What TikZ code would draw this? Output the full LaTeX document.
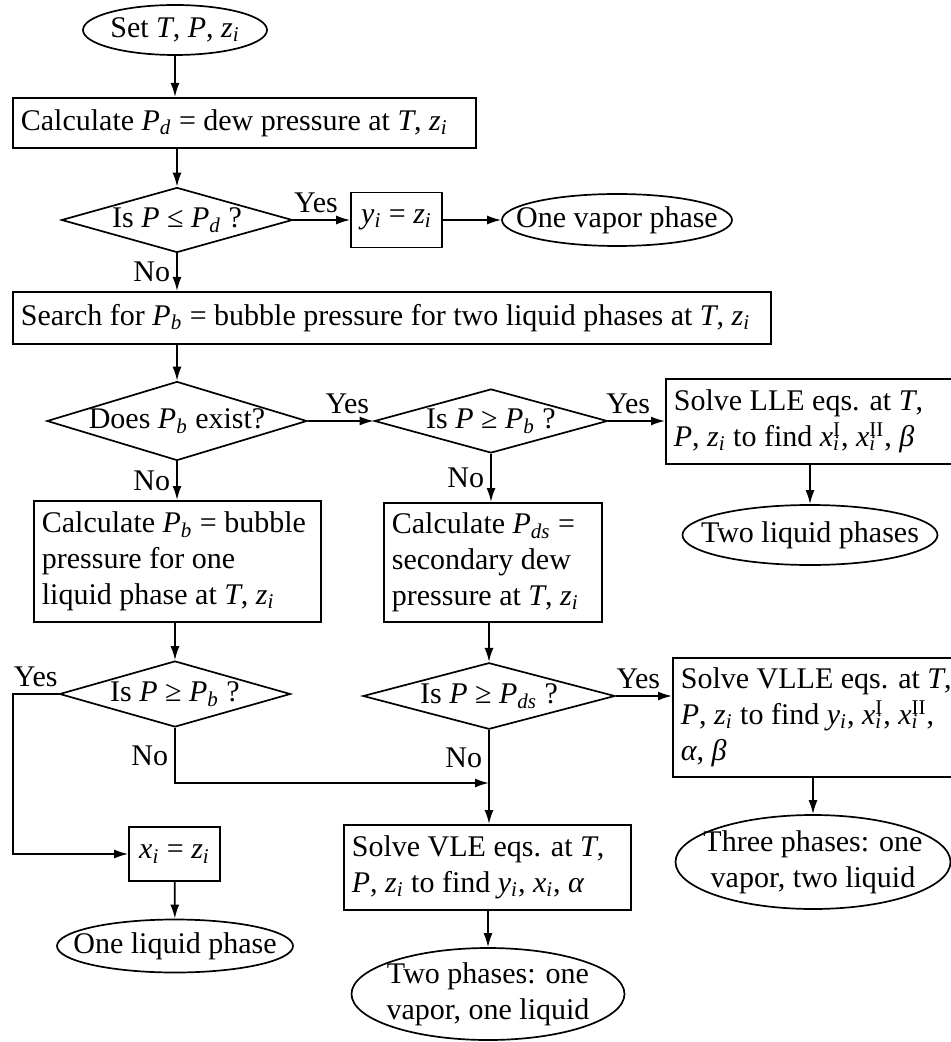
\documentclass[tikz,border=0pt]{standalone}
\usepackage{fontspec}
\setmainfont{Liberation Serif}
\usetikzlibrary{shapes.geometric,arrows.meta}

\newcommand{\vv}[1]{\textit{#1}}
\newcommand{\sbs}[1]{\textsubscript{\textit{#1}}}
\newcommand{\xsup}[1]{\textit{x}\makebox[0pt][l]{\sbs{i}}\textsuperscript{#1}}

\begin{document}
\begin{tikzpicture}[x=0.5pt, y=-0.5pt, line width=0.85pt,
    font=\fontsize{15}{18}\selectfont,
    term/.style={ellipse, draw, align=center, inner xsep=-20pt, inner ysep=-8pt},
    box/.style={rectangle, draw, align=flush left, anchor=north west, inner xsep=4pt, inner ysep=0pt},
    eqbox/.style={rectangle, draw, inner sep=0pt},
    decide/.style={diamond, draw, aspect=3.3, inner sep=0pt},
    arr/.style={-{Latex[length=7pt,width=4.5pt]}},
    lbl/.style={inner sep=3pt}]

\useasboundingbox (0,0) rectangle (951,1042);

\node[term, minimum width=92pt, minimum height=25pt] (set) at (175,30) {Set \vv{T}, \vv{P}, \vv{z}\sbs{i}};

\node[box, text width=223.5pt, minimum height=25pt] (calcd) at (12,97)
    {\mbox{Calculate \vv{P}\sbs{d} = dew pressure at \vv{T}, \vv{z}\sbs{i}}};

\node[decide, minimum width=115.5pt, minimum height=32.5pt] (isd) at (177,220) {Is \vv{P} ≤ \vv{P}\sbs{d} ?};

\node[eqbox, minimum width=45.5pt, minimum height=27.5pt] (yz) at (396.5,220) {\vv{y}\sbs{i} = \vv{z}\sbs{i}};

\node[term, minimum width=115pt, minimum height=26pt] (vap) at (617,220) {One vapor phase};

\node[box, text width=371pt, minimum height=26pt] (search) at (12,291)
    {\mbox{Search for \vv{P}\sbs{b} = bubble pressure for two liquid phases at \vv{T}, \vv{z}\sbs{i}}};

\node[decide, minimum width=130pt, minimum height=39.5pt] (exist) at (177,421) {Does \vv{P}\sbs{b} exist?};

\node[decide, minimum width=116.5pt, minimum height=32pt] (isb) at (491,421) {Is \vv{P} ≥ \vv{P}\sbs{b} ?};

\node[box, text width=150pt, minimum height=42.5pt] (lle) at (665,378)
    {\mbox{Solve LLE eqs. at \vv{T},}\\\mbox{\vv{P}, \vv{z}\sbs{i} to find \xsup{I}, \xsup{II}, \vv{β}}};

\node[term, minimum width=127.5pt, minimum height=30pt] (twoliq) at (810,535) {Two liquid phases};

\node[box, text width=135.5pt, minimum height=60.5pt] (calcb) at (33,500)
    {\mbox{Calculate \vv{P}\sbs{b} = bubble}\\pressure for one\\\mbox{liquid phase at \vv{T}, \vv{z}\sbs{i}}};

\node[box, text width=101pt, minimum height=59.5pt] (calcds) at (383,502)
    {\mbox{Calculate \vv{P}\sbs{ds} =}\\secondary dew\\\mbox{pressure at \vv{T}, \vv{z}\sbs{i}}};

\node[decide, minimum width=115.5pt, minimum height=33pt] (isb2) at (175,694) {Is \vv{P} ≥ \vv{P}\sbs{b} ?};

\node[decide, minimum width=126pt, minimum height=33pt] (isds) at (489,696) {Is \vv{P} ≥ \vv{P}\sbs{ds} ?};

\node[box, text width=150pt, minimum height=59.5pt] (vlle) at (672,657)
    {\mbox{Solve VLLE eqs. at \vv{T},}\\\mbox{\vv{P}, \vv{z}\sbs{i} to find \vv{y}\sbs{i}, \xsup{I}, \xsup{II},}\\\vv{α}, \vv{β}};

\node[term, minimum width=137.5pt, minimum height=47pt] (three) at (813,862) {Three phases: one\\vapor, two liquid};

\node[eqbox, minimum width=45.5pt, minimum height=27pt] (xz) at (174.5,854) {\vv{x}\sbs{i} = \vv{z}\sbs{i}};

\node[term, minimum width=118pt, minimum height=26.5pt] (liq1) at (175,946) {One liquid phase};

\node[box, text width=135.5pt, minimum height=42.5pt] (vle) at (343,824)
    {\mbox{Solve VLE eqs. at \vv{T},}\\\mbox{\vv{P}, \vv{z}\sbs{i} to find \vv{y}\sbs{i}, \vv{x}\sbs{i}, \vv{α}}};

\node[term, minimum width=136.5pt, minimum height=46pt] (two) at (488,994) {Two phases: one\\vapor, one liquid};

\coordinate (bend) at (13,694);
\coordinate (join) at (489,783);

\draw[arr] (set) -- (set |- calcd.north);
\draw[arr] (isd |- calcd.south) -- (isd);
\draw[arr] (isd.east) -- node[lbl, above, pos=0.4] {Yes} (yz);
\draw[arr] (yz) -- (vap);
\draw[arr] (isd) -- node[lbl, left] {No} (isd |- search.north);
\draw[arr] (exist |- search.south) -- (exist);
\draw[arr] (exist) -- node[lbl, above, pos=0.6] {Yes} (isb);
\draw[arr] (isb) -- node[lbl, above, pos=0.35] {Yes} (isb -| lle.west);
\draw[arr] (twoliq |- lle.south) -- (twoliq);
\draw[arr] (exist) -- node[lbl, left] {No} (exist |- calcb.north);
\draw[arr] (isb) -- node[lbl, left] {No} (isb |- calcds.north);
\draw[arr] (isb2 |- calcb.south) -- (isb2);
\draw[arr] (isds |- calcds.south) -- (isds);
\draw[arr] (isds) -- node[lbl, above, pos=0.4] {Yes} (isds -| vlle.west);
\draw[arr] (three |- vlle.south) -- (three);
\draw[arr] (isb2.west) -- node[lbl, above] {Yes} (bend) |- (xz);
\draw[arr] (isb2) |- node[lbl, left, pos=0.25] {No} (join);
\draw[arr] (isds) -- node[lbl, left, pos=0.3] {No} (isds |- vle.north);
\draw[arr] (xz) -- (liq1);
\draw[arr] (two |- vle.south) -- (two);

\end{tikzpicture}
\end{document}
